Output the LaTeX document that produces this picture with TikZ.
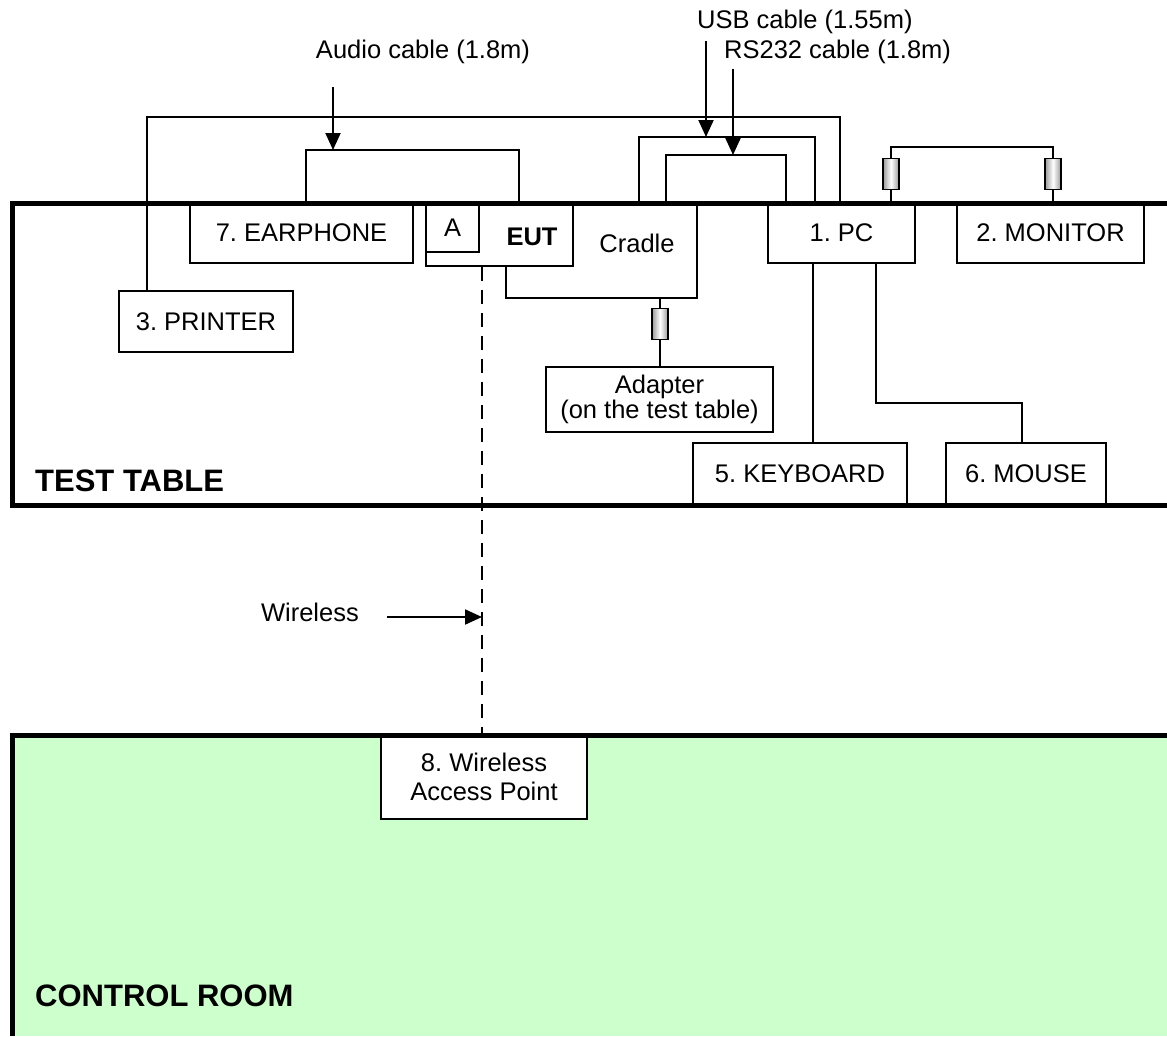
\documentclass[tikz,border=0pt]{standalone}
\usepackage{fontspec}
\setmainfont{Liberation Sans}
\usetikzlibrary{arrows.meta}
\definecolor{roomgreen}{HTML}{CCFFCC}
\frenchspacing
\begin{document}
\begin{tikzpicture}[x=1pt,y=-1pt,
  font=\fontsize{25.5}{29}\selectfont,
  box/.style={draw,line width=2pt,fill=white,inner sep=0pt,align=center},
  bead/.style={draw,line width=1.4pt,minimum width=16pt,minimum height=31pt,inner sep=0pt,left color=gray!80,right color=gray!80,middle color=white},
  cable/.style={line width=2pt},
  arr/.style={line width=2pt,-{Triangle[length=17pt,width=15pt]}},
  wall/.style={line width=5pt},
  title/.style={font=\fontsize{31}{36}\selectfont\bfseries,anchor=west,inner sep=0pt}]
\useasboundingbox (0,0) rectangle (1167,1036);
\fill[roomgreen] (12,735) rectangle (1167,1036);

\node[box,minimum width=223pt,minimum height=60pt] (ear) at (301.5,233) {7. EARPHONE};
\node[box,minimum width=191pt,minimum height=95pt] (cradle) at (601.5,250.5) {};
\node (cradletxt) at (637,243) {Cradle};
\node[box,minimum width=147pt,minimum height=63pt] (eut) at (499.5,234.5) {};
\node[box,minimum width=53pt,minimum height=49pt] (a) at (452.5,227.5) {A};
\node[font=\fontsize{25.5}{29}\selectfont\bfseries] (euttxt) at (532,237) {EUT};
\node[box,minimum width=147pt,minimum height=60pt] (pc) at (841.5,233) {1. PC};
\node[box,minimum width=187pt,minimum height=60pt] (mon) at (1050.5,233) {2. MONITOR};
\node[box,minimum width=174pt,minimum height=61pt] (prn) at (206,321.5) {3. PRINTER};
\node[box,minimum width=227pt,minimum height=65pt,font=\fontsize{25.5}{25}\selectfont] (adp) at (659.5,399.5) {Adapter\\(on the test table)};
\node[box,minimum width=214pt,minimum height=62pt] (kbd) at (800,474) {5. KEYBOARD};
\node[box,minimum width=160pt,minimum height=62pt] (mouse) at (1026,474) {6. MOUSE};
\node[box,minimum width=206pt,minimum height=84pt] (ap) at (484,777) {8. Wireless\\Access Point};

\node (audiolbl) at (423,52) {Audio cable (1.8m)};
\node[anchor=west,inner sep=0pt] (usblbl) at (697,22) {USB cable (1.55m)};
\node[anchor=west,inner sep=0pt] (rslbl) at (724,52) {RS232 cable (1.8m)};
\node[anchor=east,inner sep=0pt] (wllbl) at (359,612) {Wireless};
\node[title] (tt) at (35,481) {TEST TABLE};
\node[title] (cr) at (35,996) {CONTROL ROOM};

\coordinate (prnA) at (147,117);
\coordinate (prnB) at (840,117);
\draw[cable] (prnA |- prn.north) -- (prnA) -- (prnB) -- (prnB |- pc.north);

\coordinate (audA) at (306,150);
\coordinate (audB) at (519,150);
\draw[cable] (audA |- ear.north) -- (audA) -- (audB) -- (audB |- eut.north);

\coordinate (usbA) at (639,137);
\coordinate (usbB) at (815,137);
\draw[cable] (usbA |- cradle.north) -- (usbA) -- (usbB) -- (usbB |- pc.north);

\coordinate (rsA) at (666,155);
\coordinate (rsB) at (786,155);
\draw[cable] (rsA |- cradle.north) -- (rsA) -- (rsB) -- (rsB |- pc.north);

\node[bead] (b1) at (891,174) {};
\node[bead] (b2) at (1053,174) {};
\draw[cable] (b1.south) -- (b1.south |- pc.north);
\draw[cable] (b1.north) |- (b2.north |- 0,147) -- (b2.north);
\draw[cable] (b2.south) -- (b2.south |- mon.north);

\node[bead] (b3) at (660,324) {};
\draw[cable] (b3.north) -- (b3.north |- cradle.south);
\draw[cable] (b3.south) -- (b3.south |- adp.north);

\draw[cable] (pc.south -| 813,0) -- (kbd.north -| 813,0);
\coordinate (msA) at (876,403);
\coordinate (msB) at (1022,403);
\draw[cable] (msA |- pc.south) -- (msA) -- (msB) -- (msB |- mouse.north);

\coordinate (audtop) at (333,87);
\coordinate (audtip) at (333,150);
\draw[arr] (audtop) -- (audtip);
\coordinate (usbtop) at (706,41);
\coordinate (usbtip) at (706,137);
\draw[arr] (usbtop) -- (usbtip);
\coordinate (rstop) at (733,69);
\coordinate (rstip) at (733,155);
\draw[arr] (rstop) -- (rstip);

\coordinate (wx) at (482,617);
\draw[cable,dash pattern=on 14pt off 9pt] (eut.south -| wx) -- (ap.north -| wx);
\coordinate (wstart) at (387,617);
\draw[arr] (wstart) -- (wx);

\draw[wall] (1167,203) -- (12,203) -- (12,505) -- (1167,505);
\draw[wall] (12,1036) -- (12,735) -- (1167,735);
\end{tikzpicture}
\end{document}
